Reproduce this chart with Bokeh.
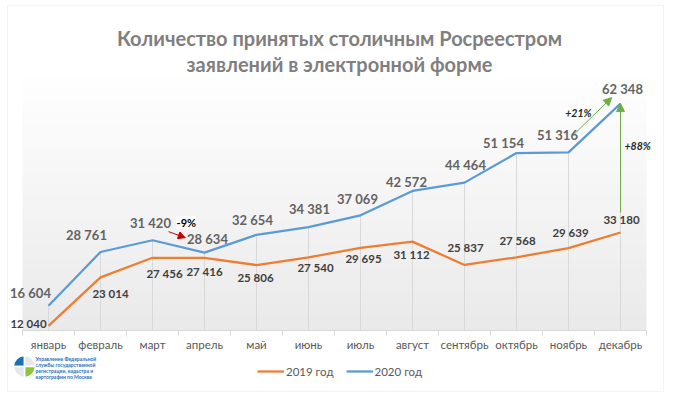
from bokeh.plotting import figure
from bokeh.models import (ColumnDataSource, LabelSet, Label, Arrow, NormalHead,
                          Legend, LegendItem, FixedTicker, BoxAnnotation, Range1d)
from bokeh.core.properties import value
from bokeh.embed import file_html
from bokeh.resources import INLINE
import numpy as np

months = ["январь", "февраль", "март", "апрель", "май", "июнь", "июль",
          "август", "сентябрь", "октябрь", "ноябрь", "декабрь"]
v2019 = [12040, 23014, 27456, 27416, 25806, 27540, 29695, 31112, 25837, 27568, 29639, 33180]
v2020 = [16604, 28761, 31420, 28634, 32654, 34381, 37069, 42572, 44464, 51154, 51316, 62348]

# label offsets in px (dx right, dy down)
off2020 = [(-18, -13), (-14, -17), (-2, -17), (3, -14), (-4, -15), (1, -18),
           (-3, -16), (-6, -9), (1, -18), (-13, -10), (-11, -17), (2, -15)]
off2019 = [(-20, -2), (10, 16), (12, 16), (0, 14), (-1, 12), (7, 10),
           (3, 11), (-1, 13), (1, -17), (1, -17), (2, -16), (1, -13)]

FONT = "Lato"
W, H = 670, 394
X0, DX = 48, 52            # px of first category, px per category
AXIS_PX = 330              # px of the category axis
YAXIS, YTOP = 11000, 68700  # value range of the plot area
TOP_PX = 75
K = (AXIS_PX - TOP_PX) / (YTOP - YAXIS)


def fmt(v):
    return f"{v:,}".replace(",", " ")


def px_x(px):  # page px -> data x (decorations only)
    return (px - X0) / DX


def px_y(py):
    return YAXIS + (AXIS_PX - py) / K


xs = list(range(len(months)))

p = figure(width=W, height=H, x_range=Range1d(px_x(0), px_x(W)), y_range=Range1d(px_y(H), px_y(0)),
           output_backend="svg", toolbar_location=None, y_axis_location=None,
           min_border=0)
p.outline_line_color = None
p.grid.visible = False
p.background_fill_color = "white"
p.border_fill_color = "white"

# chart border
p.add_layout(BoxAnnotation(left=px_x(7), right=px_x(663), top=px_y(5), bottom=px_y(391),
                           fill_alpha=0, line_color="#d9d9d9", line_width=1))

# gradient plot area
n = 120
img = np.empty((n, 1), dtype=np.uint32)
view = img.view(dtype=np.uint8).reshape((n, 1, 4))
for i in range(n):
    t = i / (n - 1)
    c = int(234 + (255 - 234) * t)
    view[i, 0] = [c, c, c, 255]
p.image_rgba(image=[img], x=-0.5, y=YAXIS, dw=12, dh=YTOP - YAXIS)

# drop lines
p.segment(x0=xs, y0=[YAXIS] * 12, x1=xs, y1=v2020, line_color="#d9d9d9", line_width=1)

r19 = p.line(xs, v2019, line_color="#ed7d31", line_width=2.25)
r20 = p.line(xs, v2020, line_color="#5b9bd5", line_width=2.25)

src20 = ColumnDataSource(dict(x=xs, y=v2020, t=[fmt(v) for v in v2020],
                              dx=[o[0] for o in off2020], dy=[-o[1] for o in off2020]))
src19 = ColumnDataSource(dict(x=xs, y=v2019, t=[fmt(v) for v in v2019],
                              dx=[o[0] for o in off2019], dy=[-o[1] for o in off2019]))
p.add_layout(LabelSet(x="x", y="y", text="t", x_offset="dx", y_offset="dy", source=src20,
                      text_align="center", text_baseline="middle", text_font=value(FONT),
                      text_font_size="13px", text_font_style="bold", text_color="#636363"))
p.add_layout(LabelSet(x="x", y="y", text="t", x_offset="dx", y_offset="dy", source=src19,
                      text_align="center", text_baseline="middle", text_font=value(FONT),
                      text_font_size="11.5px", text_font_style="bold", text_color="#404040"))

# x axis
ax = p.xaxis[0]
ax.fixed_location = YAXIS
ax.bounds = (-0.5, 11.5)
ax.ticker = FixedTicker(ticks=xs, minor_ticks=[i - 0.5 for i in range(13)])
ax.major_label_overrides = {i: m for i, m in enumerate(months)}
ax.axis_line_color = "#d9d9d9"
ax.major_tick_line_color = None
ax.major_tick_out = 0
ax.minor_tick_line_color = "#d9d9d9"
ax.minor_tick_out = 5
ax.minor_tick_in = 0
ax.major_label_standoff = 2
ax.major_label_text_font = FONT
ax.major_label_text_font_size = "11.5px"
ax.major_label_text_color = "#595959"

# legend
leg = Legend(items=[LegendItem(label="2019 год", renderers=[r19]),
                    LegendItem(label="2020 год", renderers=[r20])],
             orientation="horizontal", location=(257, H - 378),
             glyph_width=27, glyph_height=14, label_height=14, label_standoff=2, spacing=12,
             padding=0, margin=0, border_line_color=None, background_fill_alpha=0,
             label_text_font=FONT, label_text_font_size="11.5px", label_text_color="#595959")
p.add_layout(leg)

# title
for txt, py in [("Количество принятых столичным Росреестром", 37),
                ("заявлений в электронной форме", 63)]:
    p.add_layout(Label(x=px_x(339), y=px_y(py), text=txt, text_align="center", text_baseline="middle",
                       text_font=FONT, text_font_size="20px", text_font_style="bold",
                       text_color="#7f7f7f"))

# annotations
green = "#70ad47"
red = "#c00000"
p.add_layout(Arrow(end=NormalHead(size=7, fill_color=red, line_color=red),
                   x_start=2.31, y_start=v2020[2] + 1950, x_end=2.63, y_end=v2020[3] + 3370,
                   line_color=red, line_width=1))
p.add_layout(Label(x=2.65, y=v2020[2] + 4000, text="-9%", text_align="center", text_baseline="middle",
                   text_font=FONT, text_font_size="11px", text_font_style="bold", text_color="black",
                   background_fill_color="white"))
p.add_layout(Arrow(end=NormalHead(size=8, fill_color=green, line_color=green),
                   x_start=10.1, y_start=v2020[10] + 4000, x_end=10.83, y_end=v2020[11] + 1350,
                   line_color=green, line_width=1))
p.add_layout(Label(x=10.19, y=v2020[10] + 9000, text="+21%", text_align="center", text_baseline="middle",
                   text_font=FONT, text_font_size="10.5px", text_font_style="bold italic", text_color="#262626"))
p.add_layout(Arrow(end=NormalHead(size=8, fill_color=green, line_color=green),
                   x_start=11, y_start=v2019[11] + 4500, x_end=11, y_end=v2020[11],
                   line_color=green, line_width=1))
p.add_layout(Label(x=11.33, y=v2019[11] + 19650, text="+88%", text_align="center", text_baseline="middle",
                   text_font=FONT, text_font_size="10.5px", text_font_style="bold italic", text_color="#262626"))

# logo
lx, ly = px_x(24), px_y(366)
for a0, a1, c in [(90, 180, "#1b6fb6"), (0, 90, "#e8e8e8"), (270, 360, "#8cc63f"), (180, 270, "#e8e8e8")]:
    p.wedge(x=[lx], y=[ly], radius=11, radius_units="screen", start_angle=a0, end_angle=a1,
            start_angle_units="deg", end_angle_units="deg",
            fill_color=c, line_color="white", line_width=1.5)
for i, txt in enumerate(["Управление Федеральной", "службы государственной",
                         "регистрации, кадастра и", "картографии по Москве"]):
    p.add_layout(Label(x=px_x(35), y=px_y(358 + i * 6), text=txt, text_align="left",
                       text_baseline="middle", text_font=FONT, text_font_size="5px",
                       text_font_style="bold", text_color="#2a6ebb"))

open("out.html", "w").write(file_html(p, INLINE))
